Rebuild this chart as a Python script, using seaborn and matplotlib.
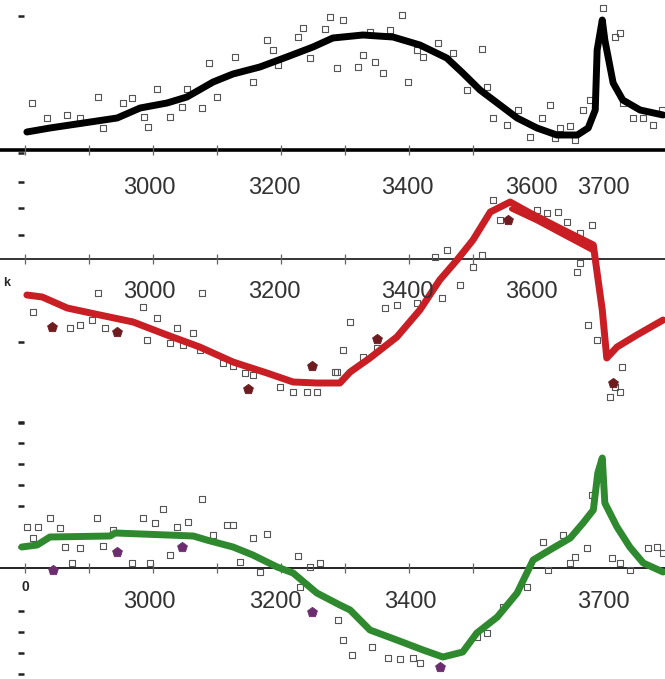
import matplotlib
matplotlib.use("Agg")
import matplotlib.pyplot as plt
import seaborn as sns

# ---- data (wavenumber, signal) ----
top_line_x = [2803, 2839, 2902, 2944, 2980, 3022, 3053, 3094, 3125, 3167, 3209, 3250, 3281, 3328,
              3375, 3417, 3459, 3484, 3511, 3538, 3569, 3600, 3631, 3663, 3680, 3691, 3694, 3702,
              3706, 3719, 3734, 3761, 3797]
top_line_y = [0.18, 0.22, 0.28, 0.32, 0.42, 0.47, 0.53, 0.68, 0.76, 0.83, 0.93, 1.03, 1.12, 1.15,
              1.13, 1.05, 0.92, 0.77, 0.60, 0.47, 0.32, 0.22, 0.15, 0.15, 0.22, 0.40, 1.00, 1.30,
              1.10, 0.67, 0.50, 0.40, 0.35]
top_pts_x = [2811, 2834, 2866, 2886, 2914, 2922, 2953, 2967, 2986, 2992, 3006, 3027, 3045, 3053,
             3077, 3088, 3100, 3128, 3156, 3178, 3188, 3195, 3227, 3234, 3245, 3269, 3277, 3288,
             3297, 3389, 3328, 3320, 3347, 3359, 3398, 3370, 3339, 3413, 3422, 3445, 3469, 3514,
             3491, 3522, 3531, 3553, 3570, 3608, 3620, 3589, 3636, 3652, 3672, 3683, 3703, 3722,
             3730, 3750, 3766, 3781, 3795, 3734, 3628, 3659]
top_pts_y = [0.47, 0.32, 0.35, 0.32, 0.53, 0.22, 0.47, 0.52, 0.33, 0.23, 0.61, 0.33, 0.43, 0.61,
             0.42, 0.87, 0.53, 0.93, 0.68, 1.10, 1.00, 0.85, 1.13, 1.22, 0.92, 1.21, 1.33, 0.82,
             1.30, 1.35, 0.95, 0.83, 0.88, 0.77, 0.68, 1.20, 1.18, 1.00, 0.93, 1.07, 0.97, 1.01,
             0.60, 0.63, 0.32, 0.25, 0.40, 0.32, 0.45, 0.13, 0.22, 0.24, 0.40, 0.50, 1.42, 1.13,
             1.17, 0.32, 0.32, 0.25, 0.40, 0.47, 0.12, 0.10]

mid_line_x = [2803, 2827, 2866, 2917, 2969, 3022, 3073, 3125, 3178, 3219, 3256, 3292, 3308, 3339,
              3381, 3417, 3448, 3475, 3500, 3527, 3558, 3589, 3641, 3688, 3694, 3702, 3709, 3725,
              3756, 3797]
mid_line_y = [-0.36, -0.38, -0.49, -0.56, -0.63, -0.76, -0.88, -1.03, -1.14, -1.23, -1.24, -1.24,
              -1.13, -0.99, -0.78, -0.51, -0.21, -0.01, 0.19, 0.47, 0.57, 0.46, 0.29, 0.14, -0.14,
              -0.51, -0.99, -0.88, -0.76, -0.61]
mid_line2_x = [3560, 3600, 3641, 3688]
mid_line2_y = [0.50, 0.38, 0.24, 0.08]
mid_pts_x = [2914, 2812, 2984, 3006, 3077, 2886, 2905, 2870, 2925, 2991, 3027, 3038, 3047, 3063,
             3073, 3109, 3125, 3144, 3156, 3198, 3219, 3241, 3256, 3288, 3308, 3297, 3284, 3328,
             3350, 3363, 3381, 3413, 3452, 3480, 3459, 3441, 3500, 3514, 3667, 3663, 3680, 3694,
             3733, 3722, 3714, 3730, 3531, 3542, 3600, 3616, 3633, 3647, 3686, 3667]
mid_pts_y = [-0.34, -0.53, -0.48, -0.59, -0.34, -0.66, -0.61, -0.69, -0.69, -0.81, -0.84, -0.69,
             -0.86, -0.74, -0.91, -1.04, -1.07, -1.14, -1.16, -1.28, -1.33, -1.33, -1.33, -1.13,
             -0.63, -0.91, -1.13, -0.98, -0.89, -0.49, -0.46, -0.44, -0.39, -0.26, 0.09, 0.02,
             -0.08, 0.04, -0.04, -0.13, -0.66, -0.81, -1.08, -1.28, -1.38, -1.33, 0.59, 0.39, 0.49,
             0.46, 0.47, 0.37, 0.34, 0.26]
mid_dots_x = [2842, 2944, 3148, 3248, 3350, 3719, 3555]
mid_dots_y = [-0.68, -0.73, -1.30, -1.07, -0.80, -1.24, 0.39]

bot_line_x = [2795, 2819, 2839, 2933, 2941, 3063, 3084, 3125, 3156, 3194, 3219, 3256, 3292, 3308,
              3339, 3381, 3422, 3453, 3484, 3506, 3538, 3569, 3594, 3620, 3652, 3672, 3688, 3695,
              3702, 3706, 3725, 3745, 3766, 3797]
bot_line_y = [0.21, 0.23, 0.31, 0.32, 0.35, 0.32, 0.28, 0.21, 0.13, 0.01, -0.05, -0.25, -0.37,
              -0.42, -0.62, -0.72, -0.82, -0.89, -0.84, -0.65, -0.49, -0.25, 0.08, 0.18, 0.30,
              0.45, 0.58, 0.95, 1.10, 0.65, 0.41, 0.21, 0.05, -0.04]
bot_pts_x = [2803, 2820, 2839, 2855, 2812, 2862, 2886, 2873, 2913, 2922, 2938, 2967, 2984, 2995,
             3003, 3016, 3027, 3038, 3055, 3077, 3094, 3116, 3125, 3136, 3156, 3178, 3167, 3227,
             3230, 3245, 3261, 3289, 3297, 3311, 3342, 3367, 3386, 3406, 3417, 3506, 3522, 3547,
             3584, 3609, 3617, 3641, 3652, 3659, 3678, 3686, 3717, 3730, 3745, 3773, 3788, 3797]
bot_pts_y = [0.41, 0.41, 0.50, 0.40, 0.30, 0.21, 0.20, 0.05, 0.50, 0.22, 0.38, 0.05, 0.50, 0.05,
             0.45, 0.59, 0.13, 0.41, 0.46, 0.69, 0.33, 0.43, 0.43, 0.06, 0.30, 0.34, -0.04, 0.12,
             -0.19, 0.01, 0.05, -0.52, -0.72, -0.87, -0.79, -0.90, -0.91, -0.90, -0.95, -0.69,
             -0.65, -0.39, -0.19, 0.26, -0.02, 0.33, 0.05, 0.11, 0.20, 0.73, 0.10, 0.05, -0.02,
             0.20, 0.21, 0.15]
bot_dots_x = [2844, 2944, 3045, 3248, 3448]
bot_dots_y = [-0.02, 0.16, 0.21, -0.44, -0.99]

# tick labels as they sit under each axis line
top_labels = ["3000", "3200", "3400", "3600", "3700"]
top_label_x = [2995, 3189, 3398, 3592, 3703]
mid_labels = ["3000", "3200", "3400", "3600"]
mid_label_x = [2995, 3189, 3397, 3592]
bot_labels = ["3000", "3200", "3400", "3700"]
bot_label_x = [2995, 3191, 3402, 3703]

axis_ticks = [2800, 2900, 3000, 3100, 3200, 3300, 3400, 3500]
top_yticks = [1.34, -0.03, -0.32, -0.58, -0.85]
mid_yticks = [-0.83, -1.64]
bot_yticks = [1.46, 1.25, 1.04, 0.83, 0.62, 0.21, -0.43, -0.64, -0.85, -1.06]

sns.set_style("white")
plt.rcParams["font.family"] = ["Liberation Sans", "DejaVu Sans"]

fig = plt.figure(figsize=(6.65, 6.79), dpi=100)
W, H = 665, 679
# (top px, bottom px, ylim)
panels = [
    (0, 250, (-1.0, 1.5)),
    (170, 440, (-1.81, 0.89)),
    (400, 679, (-1.11, 1.68)),
]
axes = []
for top, bottom, ylim in panels:
    ax = fig.add_axes([0, (H - bottom) / H, 1, (bottom - top) / H])
    ax.set_facecolor("none")
    ax.set_xlim(2761, 3800)
    ax.set_ylim(*ylim)
    for s in ["top", "right", "bottom", "left"]:
        ax.spines[s].set_visible(False)
    ax.spines["left"].set_position(("data", 2798))
    ax.set_xticks([])
    ax.tick_params(axis="y", direction="out", length=4, width=1.8, color="#222",
                   labelleft=False, left=True)
    axes.append(ax)

sq = dict(marker="s", s=18, facecolor="none", edgecolor="#555555", linewidth=0.8, legend=False)
ln = dict(estimator=None, solid_joinstyle="round", solid_capstyle="round")

# ---- top panel (black) ----
ax = axes[0]
ax.axhline(0, color="black", lw=2.6, zorder=1)
sns.scatterplot(x=top_pts_x, y=top_pts_y, ax=ax, zorder=2, **sq)
sns.lineplot(x=top_line_x, y=top_line_y, ax=ax, color="black", lw=5, zorder=3, **ln)
ax.set_yticks(top_yticks)
for t, xl in zip(top_labels, top_label_x):
    ax.text(xl, -0.38, t, ha="center", va="center", fontsize=17, color="#333333")

# ---- middle panel (red) ----
ax = axes[1]
ax.axhline(0, color="#333333", lw=1.4, zorder=1)
sns.scatterplot(x=mid_pts_x, y=mid_pts_y, ax=ax, zorder=2, **sq)
sns.lineplot(x=mid_line_x, y=mid_line_y, ax=ax, color="#c81e24", lw=5, zorder=3, **ln)
sns.lineplot(x=mid_line2_x, y=mid_line2_y, ax=ax, color="#c81e24", lw=3.5, zorder=3, **ln)
sns.scatterplot(x=mid_dots_x, y=mid_dots_y, ax=ax, marker="p", s=55, color="#6e1c20",
                edgecolor="#6e1c20", zorder=4, legend=False)
ax.set_yticks(mid_yticks)
for t, xl in zip(mid_labels, mid_label_x):
    ax.text(xl, -0.33, t, ha="center", va="center", fontsize=17, color="#333333")
ax.text(2771, -0.24, "k", ha="center", va="center", fontsize=9, fontweight="bold")

# ---- bottom panel (green) ----
ax = axes[2]
ax.axhline(0, color="#222222", lw=1.4, zorder=1)
sns.scatterplot(x=bot_pts_x, y=bot_pts_y, ax=ax, zorder=2, **sq)
sns.lineplot(x=bot_line_x, y=bot_line_y, ax=ax, color="#2f8a2f", lw=5, zorder=3, **ln)
sns.scatterplot(x=bot_dots_x, y=bot_dots_y, ax=ax, marker="p", s=55, color="#6b2d6e",
                edgecolor="#6b2d6e", zorder=4, legend=False)
ax.set_yticks(bot_yticks)
for t, xl in zip(bot_labels, bot_label_x):
    ax.text(xl, -0.34, t, ha="center", va="center", fontsize=17, color="#333333")
ax.text(2800, -0.19, "0", ha="center", va="center", fontsize=10, fontweight="bold")

# small tick marks across the axis lines
for ax in axes:
    ax.vlines(axis_ticks, -0.05, 0.05, color="#666666", lw=0.9, zorder=1)

fig.savefig("out.png", dpi=100)
